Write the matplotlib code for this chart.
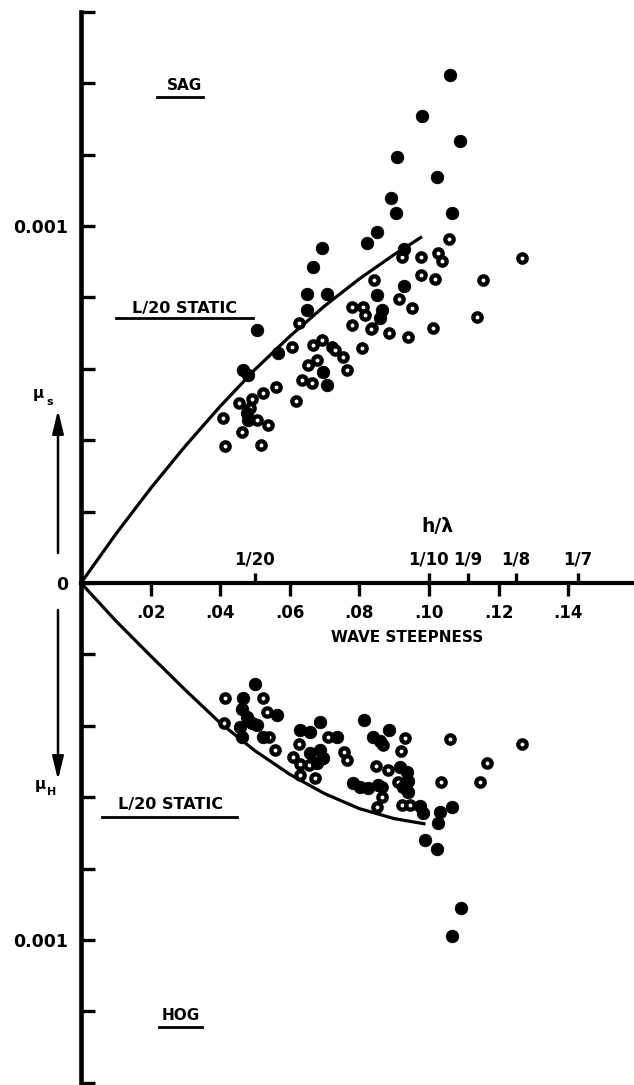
import matplotlib
matplotlib.use("Agg")
import matplotlib.pyplot as plt
from matplotlib.lines import Line2D

plt.rcParams["font.family"] = ["DejaVu Sans"]
plt.rcParams["font.weight"] = "bold"

# ---- measured points: wave steepness h/lambda vs bending-moment coefficient ----
# sagging (mu_s), solid symbols
sag_solid_x = [0.1060, 0.0979, 0.1089, 0.0907, 0.1022, 0.0891, 0.0904, 0.1067,
               0.0851, 0.0821, 0.0692, 0.0668, 0.0505, 0.0649, 0.0649, 0.0706,
               0.0929, 0.0929, 0.0850, 0.0864, 0.0859, 0.0567, 0.0466, 0.0480,
               0.0476, 0.0481, 0.0695, 0.0707]
sag_solid_mu = [0.001423, 0.001309, 0.001239, 0.001194, 0.001138, 0.001078, 0.001036, 0.001036,
                0.000984, 0.000952, 0.000938, 0.000886, 0.000709, 0.000810, 0.000765, 0.000810,
                0.000935, 0.000832, 0.000807, 0.000765, 0.000741, 0.000643, 0.000597, 0.000583,
                0.000475, 0.000457, 0.000591, 0.000555]

# sagging (mu_s), open symbols
sag_open_x = [0.1058, 0.1266, 0.0977, 0.1027, 0.1037, 0.0977, 0.1017, 0.1156,
              0.1137, 0.1011, 0.0941, 0.0886, 0.0835, 0.0842, 0.0952, 0.0915,
              0.0923, 0.0627, 0.0605, 0.0668, 0.0692, 0.0720, 0.0730, 0.0754,
              0.0765, 0.0653, 0.0677, 0.0634, 0.0663, 0.0618, 0.0560, 0.0524,
              0.0455, 0.0491, 0.0486, 0.0409, 0.0505, 0.0538, 0.0462, 0.0414,
              0.0516, 0.0778, 0.0811, 0.0816, 0.0778, 0.0832, 0.0808]
sag_open_mu = [0.000963, 0.000910, 0.000912, 0.000925, 0.000903, 0.000863, 0.000851, 0.000849,
               0.000746, 0.000713, 0.000688, 0.000699, 0.000713, 0.000849, 0.000769, 0.000795,
               0.000914, 0.000729, 0.000662, 0.000667, 0.000681, 0.000662, 0.000653, 0.000634,
               0.000597, 0.000611, 0.000625, 0.000569, 0.000559, 0.000511, 0.000550, 0.000531,
               0.000503, 0.000515, 0.000489, 0.000461, 0.000457, 0.000443, 0.000424, 0.000384,
               0.000387, 0.000774, 0.000774, 0.000751, 0.000723, 0.000711, 0.000657]

# hogging (mu_H), solid symbols
hog_solid_x = [0.0500, 0.0466, 0.0462, 0.0476, 0.0457, 0.0462, 0.0491, 0.0505,
               0.0562, 0.0523, 0.0629, 0.0658, 0.0687, 0.0735, 0.0658, 0.0687,
               0.0696, 0.0677, 0.0814, 0.0886, 0.0840, 0.0859, 0.0782, 0.0802,
               0.0826, 0.0853, 0.0917, 0.0936, 0.0941, 0.0926, 0.0941, 0.0974,
               0.0984, 0.1032, 0.1027, 0.1065, 0.0989, 0.1022, 0.1092, 0.1067]
hog_solid_mu = [0.000282, 0.000323, 0.000353, 0.000375, 0.000403, 0.000431, 0.000393, 0.000398,
                0.000370, 0.000431, 0.000412, 0.000417, 0.000389, 0.000431, 0.000477, 0.000468,
                0.000491, 0.000505, 0.000384, 0.000412, 0.000431, 0.000443, 0.000561, 0.000571,
                0.000574, 0.000566, 0.000515, 0.000529, 0.000555, 0.000571, 0.000585, 0.000625,
                0.000644, 0.000641, 0.000673, 0.000627, 0.000720, 0.000745, 0.000911, 0.000988]

# hogging (mu_H), open symbols
hog_open_x = [0.0414, 0.0412, 0.0523, 0.0534, 0.0540, 0.0557, 0.0608, 0.0626,
              0.0629, 0.0654, 0.0629, 0.0672, 0.0711, 0.0755, 0.0763, 0.0849,
              0.0869, 0.0883, 0.0931, 0.0920, 0.0912, 0.0864, 0.0864, 0.0850,
              0.0922, 0.0945, 0.1060, 0.1034, 0.1166, 0.1147, 0.1266]
hog_open_mu = [0.000321, 0.000393, 0.000323, 0.000361, 0.000430, 0.000469, 0.000487, 0.000451,
               0.000507, 0.000510, 0.000538, 0.000547, 0.000431, 0.000473, 0.000496, 0.000513,
               0.000455, 0.000525, 0.000435, 0.000471, 0.000557, 0.000571, 0.000599, 0.000627,
               0.000622, 0.000622, 0.000438, 0.000557, 0.000503, 0.000557, 0.000451]

# L/20 static curves
sag_static_x = [0.0, 0.01, 0.02, 0.03, 0.04, 0.05, 0.06, 0.07, 0.08, 0.09, 0.098]
sag_static_mu = [0.0, 0.000137, 0.000265, 0.000384, 0.000495, 0.000598, 0.000691,
                 0.000776, 0.000852, 0.000920, 0.000970]
hog_static_x = [0.0, 0.01, 0.02, 0.03, 0.04, 0.05, 0.06, 0.07, 0.08, 0.09, 0.099]
hog_static_mu = [0.0, 0.000106, 0.000204, 0.000300, 0.000392, 0.000470, 0.000536,
                 0.000590, 0.000632, 0.000660, 0.000675]

# axis ticks
steepness_ticks = [0.02, 0.04, 0.06, 0.08, 0.10, 0.12, 0.14]
steepness_labels = [".02", ".04", ".06", ".08", ".10", ".12", ".14"]
ratio_ticks = [1 / 20, 1 / 10, 1 / 9, 1 / 8, 1 / 7]
ratio_labels = ["1/20", "1/10", "1/9", "1/8", "1/7"]
mu_ticks = [-0.0014, -0.0012, -0.0010, -0.0008, -0.0006, -0.0004, -0.0002, 0.0,
            0.0002, 0.0004, 0.0006, 0.0008, 0.0010, 0.0012, 0.0014, 0.0016]
mu_labels = ["", "", "0.001", "", "", "", "", "0",
             "", "", "", "", "0.001", "", "", ""]

# ---- figure ----
W, H = 634, 1085
fig = plt.figure(figsize=(W / 100, H / 100), dpi=100)
ax = fig.add_axes([81 / W, 0, 553 / W, 1])
ax.set_xlim(0, 553 / 3480)
ax.set_ylim(-(H - 583) / 357000, 583 / 357000)

for s in ("top", "right"):
    ax.spines[s].set_visible(False)
ax.spines["left"].set_linewidth(3.3)
ax.spines["left"].set_bounds(-0.0014, 0.0016)
ax.spines["bottom"].set_position(("data", 0))
ax.spines["bottom"].set_linewidth(3.0)

ax.set_xticks(steepness_ticks, steepness_labels)
ax.tick_params(axis="x", direction="out", length=9, width=2.4, pad=6, labelsize=12)
ax.set_yticks(mu_ticks, mu_labels)
ax.tick_params(axis="y", direction="in", length=10, width=2.4, pad=9, labelsize=12.5)

sec = ax.secondary_xaxis(0, transform=ax.transData)
sec.set_alignment("top")
sec.set_xticks(ratio_ticks, ratio_labels)
sec.tick_params(axis="x", direction="out", length=7.5, width=2.4, pad=3, labelsize=12)
for sp in sec.spines.values():
    sp.set_visible(False)

# static curves
ax.plot(sag_static_x, sag_static_mu, color="black", lw=2.3, zorder=2, solid_capstyle="butt")
ax.plot(hog_static_x, [-m for m in hog_static_mu], color="black", lw=2.3, zorder=2,
        solid_capstyle="butt")

open_style = dict(linestyle="none", marker="o", ms=6.0, mfc="white", mec="black",
                  mew=3.1, zorder=3, clip_on=False)
solid_style = dict(linestyle="none", marker="o", ms=9.0, mfc="black", mec="black",
                   mew=0.6, zorder=4, clip_on=False)

ax.plot(sag_open_x, sag_open_mu, **open_style)
ax.plot(hog_open_x, [-m for m in hog_open_mu], **open_style)
ax.plot(sag_solid_x, sag_solid_mu, **solid_style)
ax.plot(hog_solid_x, [-m for m in hog_solid_mu], **solid_style)


def fx(px):
    return px / W


def fy(py):
    return 1 - py / H


def label(px, py, s, size, **kw):
    fig.text(fx(px), fy(py), s, fontsize=size, ha=kw.pop("ha", "center"),
             va=kw.pop("va", "center"), fontweight="bold", **kw)


def underline(x0, x1, py, lw=2.0):
    fig.add_artist(Line2D([fx(x0), fx(x1)], [fy(py), fy(py)], color="black", lw=lw))


label(407, 638, "WAVE STEEPNESS", 11)
label(437, 526, "h/λ", 13.5)

label(184, 86, "SAG", 11)
underline(157, 203, 97)
label(181, 1016, "HOG", 11)
underline(159, 202, 1027)

label(185, 308, "L/20 STATIC", 11.5)
underline(116, 253, 318)
label(171, 805, "L/20 STATIC", 11.5)
underline(102, 237, 817)

# mu_s / mu_H symbols and direction arrows
label(38, 393, "μ", 11)
label(50, 402, "s", 8)
label(40, 784, "μ", 11)
label(52, 792, "H", 8)

arrow = dict(arrowstyle="-|>,head_length=0.7,head_width=0.17", color="black",
             lw=1.8, mutation_scale=20, shrinkA=0, shrinkB=0)
ax.annotate("", xy=(fx(58), fy(410)), xytext=(fx(58), fy(553)),
            xycoords="figure fraction", textcoords="figure fraction",
            arrowprops=arrow, annotation_clip=False)
ax.annotate("", xy=(fx(58), fy(780)), xytext=(fx(58), fy(610)),
            xycoords="figure fraction", textcoords="figure fraction",
            arrowprops=arrow, annotation_clip=False)

fig.savefig("out.png", dpi=100, facecolor="white")
